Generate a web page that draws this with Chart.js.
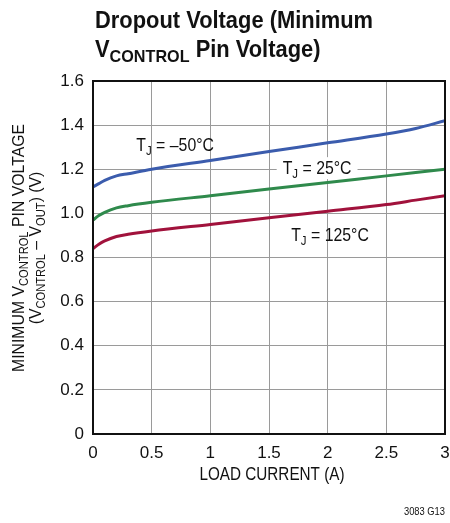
<!DOCTYPE html>
<html>
<head>
<meta charset="utf-8">
<script src="https://cdn.jsdelivr.net/npm/chart.js@4/dist/chart.umd.min.js"></script>
<style>
  html, body { margin: 0; padding: 0; background: #fff; }
  #wrap { width: 450px; height: 523px; }
</style>
</head>
<body>
<div id="wrap"><canvas id="dropoutChart" width="450" height="523"></canvas></div>
<script>
// Datos
const loadCurrent = [0, 0.05, 0.1, 0.2, 0.3, 0.5, 1, 1.5, 2, 2.5, 2.75, 3];
const vMinus50 = [1.12, 1.135, 1.15, 1.17, 1.18, 1.20, 1.24, 1.28, 1.32, 1.36, 1.385, 1.42];
const v25 = [0.97, 0.99, 1.005, 1.025, 1.035, 1.05, 1.08, 1.11, 1.14, 1.17, 1.185, 1.20];
const v125 = [0.84, 0.86, 0.875, 0.895, 0.905, 0.92, 0.95, 0.98, 1.01, 1.04, 1.06, 1.08];
const yTickLabels = ['0', '0.2', '0.4', '0.6', '0.8', '1.0', '1.2', '1.4', '1.6'];
const xTickLabels = ['0', '0.5', '1', '1.5', '2', '2.5', '3'];

// Etiquetas de cada curva: [texto, subíndice, resto, x, y, fondo blanco]
const curveLabels = [
  ['T', 'J', ' = \u201350\u00b0C', 0.70, 1.31, false],
  ['T', 'J', ' = 25\u00b0C', 1.91, 1.205, true],
  ['T', 'J', ' = 125\u00b0C', 2.02, 0.90, false]
];

const FONT = '"Liberation Sans", Arial, sans-serif';

const toPoints = (ys) => loadCurrent.map((x, i) => ({ x: x, y: ys[i] }));

// Dibuja una serie de trozos de texto (con subíndices) comprimidos en horizontal
// runs: [texto, tamaño, desplazamiento vertical]
function drawRuns(ctx, runs, x, y, weight, sx, align) {
  let total = 0;
  const widths = runs.map(r => {
    ctx.font = weight + ' ' + r[1] + 'px ' + FONT;
    const w = ctx.measureText(r[0]).width;
    total += w;
    return w;
  });
  let start = 0;
  if (align === 'center') start = -total / 2;
  if (align === 'right') start = -total;
  ctx.save();
  ctx.translate(x, y);
  ctx.scale(sx, 1);
  let cx = start;
  runs.forEach((r, i) => {
    ctx.font = weight + ' ' + r[1] + 'px ' + FONT;
    ctx.fillText(r[0], cx, r[2]);
    cx += widths[i];
  });
  ctx.restore();
  return total * sx;
}

function labelRuns(l) {
  return [[l[0], 18, 0], [l[1], 13, 4], [l[2], 18, 0]];
}

function runsWidth(ctx, runs, weight) {
  let t = 0;
  runs.forEach(r => { ctx.font = weight + ' ' + r[1] + 'px ' + FONT; t += ctx.measureText(r[0]).width; });
  return t;
}

const decorPlugin = {
  id: 'decor',
  beforeDatasetsDraw(chart) {
    const ctx = chart.ctx;
    const xs = chart.scales.x, ys = chart.scales.y;
    // fondo blanco bajo la etiqueta de 25°C
    ctx.save();
    curveLabels.forEach(l => {
      if (!l[5]) return;
      const w = runsWidth(ctx, labelRuns(l), 'normal') * 0.88;
      const cx = xs.getPixelForValue(l[3]);
      const cy = ys.getPixelForValue(l[4]);
      ctx.fillStyle = '#fff';
      ctx.fillRect(cx - w / 2 - 6, cy - 11, w + 12, 22);
    });
    ctx.restore();
  },
  afterDatasetsDraw(chart) {
    const ctx = chart.ctx;
    const a = chart.chartArea;
    const xs = chart.scales.x, ys = chart.scales.y;
    ctx.save();
    // marco del área
    ctx.strokeStyle = '#111';
    ctx.lineWidth = 2;
    ctx.strokeRect(a.left, a.top, a.right - a.left, a.bottom - a.top);

    ctx.fillStyle = '#111';
    ctx.textBaseline = 'alphabetic';
    // etiquetas de curvas
    curveLabels.forEach(l => {
      const cx = xs.getPixelForValue(l[3]);
      const cy = ys.getPixelForValue(l[4]);
      drawRuns(ctx, labelRuns(l), cx, cy + 6, 'normal', 0.88, 'center');
    });

    // título (dos líneas, condensado)
    const t1 = [['Dropout Voltage (Minimum', 23, 0]];
    const t2 = [['V', 23, 0], ['CONTROL', 17, 5], [' Pin Voltage)', 23, 0]];
    const sT = 278 / runsWidth(ctx, t1, 'bold');
    drawRuns(ctx, t1, 95, 28, 'bold', sT, 'left');
    drawRuns(ctx, t2, 95, 57, 'bold', sT, 'left');

    // título eje X
    const xt = [['LOAD CURRENT (A)', 18, 0]];
    drawRuns(ctx, xt, (a.left + a.right) / 2 + 3, 480, 'normal', 145 / runsWidth(ctx, xt, 'normal'), 'center');

    // título eje Y (girado)
    const midY = 248;
    ctx.translate(0, midY);
    ctx.rotate(-Math.PI / 2);
    const y1 = [['MINIMUM V', 17, 0], ['CONTROL', 12, 4], [' PIN VOLTAGE', 17, 0]];
    const y2 = [['(V', 17, 0], ['CONTROL', 12, 4], [' \u2013 V', 17, 0], ['OUT', 12, 4], [') (V)', 17, 0]];
    const sY = 248 / runsWidth(ctx, y1, 'normal');
    drawRuns(ctx, y1, 0, 24, 'normal', sY, 'center');
    drawRuns(ctx, y2, 0, 41, 'normal', sY, 'center');
    ctx.restore();

    // código de figura
    ctx.save();
    ctx.fillStyle = '#111';
    drawRuns(ctx, [['3083 G13', 11, 0]], 445, 515, 'normal', 0.85, 'right');
    ctx.restore();
  }
};

const ctx = document.getElementById('dropoutChart').getContext('2d');
const dropoutChart = new Chart(ctx, {
  type: 'line',
  data: {
    datasets: [
      { label: 'TJ = -50°C', data: toPoints(vMinus50), borderColor: '#3b5cad' },
      { label: 'TJ = 25°C', data: toPoints(v25), borderColor: '#2f8a4c' },
      { label: 'TJ = 125°C', data: toPoints(v125), borderColor: '#a1123c' }
    ].map(d => Object.assign(d, {
      borderWidth: 3,
      pointRadius: 0,
      fill: false,
      cubicInterpolationMode: 'monotone'
    }))
  },
  options: {
    responsive: false,
    animation: false,
    layout: { padding: { top: 81, right: 5, left: 0, bottom: 39 } },
    plugins: {
      legend: { display: false },
      tooltip: { enabled: false }
    },
    scales: {
      x: {
        type: 'linear',
        min: 0,
        max: 3,
        afterBuildTicks: (s) => { s.ticks = xTickLabels.map(v => ({ value: parseFloat(v) })); },
        afterFit: (s) => { s.height = 50; s.paddingRight = 0; s.paddingLeft = 0; },
        grid: { color: '#9a9a9a', lineWidth: 1, drawTicks: false },
        border: { display: false },
        ticks: {
          padding: 9,
          color: '#111',
          font: { family: FONT, size: 17 },
          maxRotation: 0,
          callback: (v) => xTickLabels.find(t => parseFloat(t) === v) || ''
        }
      },
      y: {
        min: 0,
        max: 1.6,
        afterBuildTicks: (s) => { s.ticks = yTickLabels.map(v => ({ value: parseFloat(v) })); },
        afterFit: (s) => { s.width = 93; s.paddingTop = 0; s.paddingBottom = 0; },
        grid: { color: '#9a9a9a', lineWidth: 1, drawTicks: false },
        border: { display: false },
        ticks: {
          padding: 9,
          color: '#111',
          font: { family: FONT, size: 17 },
          callback: (v) => yTickLabels.find(t => parseFloat(t) === v) || ''
        }
      }
    }
  },
  plugins: [decorPlugin]
});
</script>
</body>
</html>
